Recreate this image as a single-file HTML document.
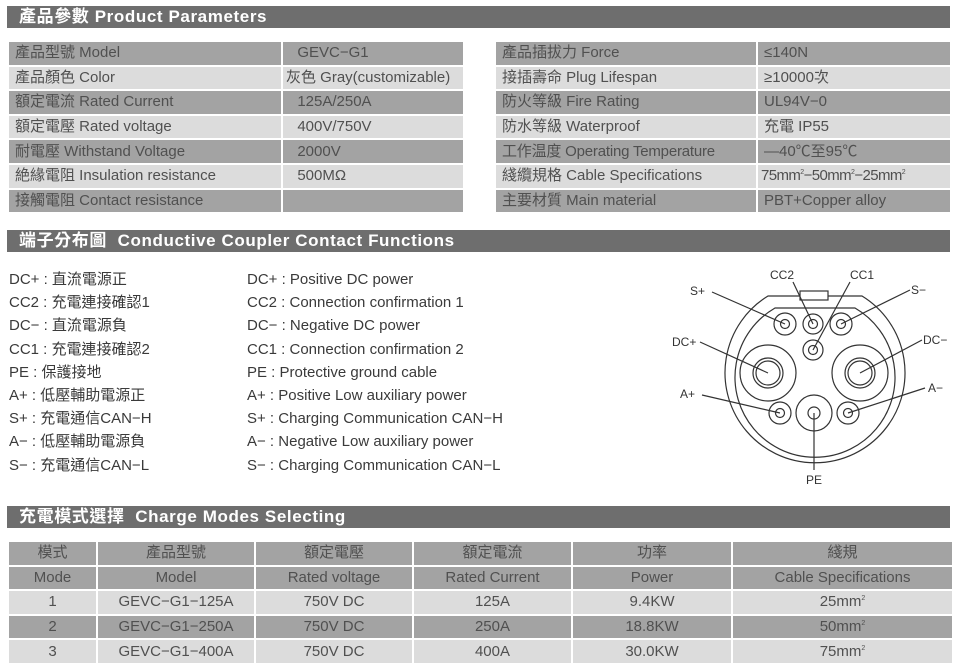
<!DOCTYPE html>
<html><head><meta charset="utf-8">
<style>
body{margin:0;width:960px;height:670px;background:#fff;position:relative;overflow:hidden;font-family:"Liberation Sans","Noto Sans CJK TC",sans-serif;color:#444}
.bar{position:absolute;left:7px;width:943px;height:22px;background:#6e6e6e;color:#fff;font-weight:bold;font-size:17px;line-height:22px;padding-left:12px;box-sizing:border-box;letter-spacing:0.6px}
table{position:absolute;border-collapse:collapse;font-size:15px;color:#505050}
td{padding:0 0 0 6px;border:2px solid #fff;white-space:nowrap;vertical-align:middle;line-height:18px}
sup{line-height:0;font-size:7px}
tr{height:24.6px}
.d td{background:#a3a3a3}.l td{background:#dcdcdc}
.t3 td{text-align:center;padding:0}
.list{position:absolute;font-size:15px;line-height:23.2px;color:#3a3a3a}
</style></head><body>
<div class="bar" style="top:6px">產品參數 Product Parameters</div>
<table class="t1" style="left:7px;top:40px;width:458px">
<tr class="d"><td style="width:266px">產品型號 Model</td><td>&nbsp;&nbsp;GEVC−G1</td></tr>
<tr class="l"><td>產品顏色 Color</td><td style="padding-left:3px">灰色 Gray(customizable)</td></tr>
<tr class="d"><td>額定電流 Rated Current</td><td>&nbsp;&nbsp;125A/250A</td></tr>
<tr class="l"><td>額定電壓 Rated voltage</td><td>&nbsp;&nbsp;400V/750V</td></tr>
<tr class="d"><td>耐電壓 Withstand Voltage</td><td>&nbsp;&nbsp;2000V</td></tr>
<tr class="l"><td>絶緣電阻 Insulation resistance</td><td>&nbsp;&nbsp;500MΩ</td></tr>
<tr class="d"><td>接觸電阻 Contact resistance</td><td></td></tr>
</table>
<table class="t1" style="left:494px;top:40px;width:458px">
<tr class="d"><td style="width:254px">產品插拔力 Force</td><td>≤140N</td></tr>
<tr class="l"><td>接插壽命 Plug Lifespan</td><td>≥10000次</td></tr>
<tr class="d"><td>防火等級 Fire Rating</td><td>UL94V−0</td></tr>
<tr class="l"><td>防水等級 Waterproof</td><td>充電 IP55</td></tr>
<tr class="d"><td style="letter-spacing:-0.2px">工作温度 Operating Temperature</td><td>—40℃至95℃</td></tr>
<tr class="l"><td>綫纜規格 Cable Specifications</td><td style="padding-left:3px;letter-spacing:-0.6px">75mm<sup>2</sup>−50mm<sup>2</sup>−25mm<sup>2</sup></td></tr>
<tr class="d"><td>主要材質 Main material</td><td>PBT+Copper alloy</td></tr>
</table>
<div class="bar" style="top:230px">端子分布圖 &nbsp;Conductive Coupler Contact Functions</div>
<div class="list" style="left:9px;top:268px">DC+ : 直流電源正<br>CC2 : 充電連接確認1<br>DC− : 直流電源負<br>CC1 : 充電連接確認2<br>PE : 保護接地<br>A+ : 低壓輔助電源正<br>S+ : 充電通信CAN−H<br>A− : 低壓輔助電源負<br>S− : 充電通信CAN−L</div>
<div class="list" style="left:247px;top:268px">DC+ : Positive DC power<br>CC2 : Connection confirmation 1<br>DC− : Negative DC power<br>CC1 : Connection confirmation 2<br>PE : Protective ground cable<br>A+ : Positive Low auxiliary power<br>S+ : Charging Communication CAN−H<br>A− : Negative Low auxiliary power<br>S− : Charging Communication CAN−L</div>
<svg style="position:absolute;left:0;top:0" width="960" height="670">
<g fill="none" stroke="#333" stroke-width="1.2">
<path d="M768,296 L862,296 A90,90 0 1 1 768,296 Z"/>
<path d="M775,308 L855,308 A80,80 0 1 1 775,308 Z"/>
<rect x="800" y="291" width="28" height="9" fill="#fff"/>
<circle cx="785" cy="324" r="11"/><circle cx="785" cy="324" r="4.5"/>
<circle cx="813" cy="324" r="10"/><circle cx="813" cy="324" r="4.5"/>
<circle cx="841" cy="324" r="11"/><circle cx="841" cy="324" r="4.5"/>
<circle cx="813" cy="350" r="10"/><circle cx="813" cy="350" r="4.5"/>
<circle cx="768" cy="373" r="28"/><circle cx="768" cy="373" r="15"/><circle cx="768" cy="373" r="12"/>
<circle cx="860" cy="373" r="28"/><circle cx="860" cy="373" r="15"/><circle cx="860" cy="373" r="12"/>
<circle cx="780" cy="413" r="11"/><circle cx="780" cy="413" r="4.5"/>
<circle cx="814" cy="413" r="18"/><circle cx="814" cy="413" r="6"/>
<circle cx="848" cy="413" r="11"/><circle cx="848" cy="413" r="4.5"/>
<path d="M712,292 L785,324 M793,282 L813,324 M850,282 L813,350 M910,290 L841,324 M700,342 L768,373 M922,340 L860,373 M702,395 L780,413 M925,388 L848,413 M814,413 L814,470"/>
</g>
<g font-size="12" fill="#333" font-family="Liberation Sans,sans-serif">
<text x="770" y="279">CC2</text><text x="850" y="279">CC1</text>
<text x="690" y="295">S+</text><text x="911" y="294">S−</text>
<text x="672" y="346">DC+</text><text x="923" y="344">DC−</text>
<text x="680" y="398">A+</text><text x="928" y="392">A−</text>
<text x="806" y="484">PE</text>
</g>
</svg>
<div class="bar" style="top:506px">充電模式選擇 &nbsp;Charge Modes Selecting</div>
<table class="t3" style="left:7px;top:540px;width:947px">
<tr class="d"><td style="width:87px">模式</td><td style="width:156px">產品型號</td><td style="width:156px">額定電壓</td><td style="width:157px">額定電流</td><td style="width:158px">功率</td><td>綫規</td></tr>
<tr class="d"><td>Mode</td><td>Model</td><td>Rated voltage</td><td>Rated Current</td><td>Power</td><td>Cable Specifications</td></tr>
<tr class="l"><td>1</td><td>GEVC−G1−125A</td><td>750V DC</td><td>125A</td><td>9.4KW</td><td>25mm<sup>2</sup></td></tr>
<tr class="d"><td>2</td><td>GEVC−G1−250A</td><td>750V DC</td><td>250A</td><td>18.8KW</td><td>50mm<sup>2</sup></td></tr>
<tr class="l"><td>3</td><td>GEVC−G1−400A</td><td>750V DC</td><td>400A</td><td>30.0KW</td><td>75mm<sup>2</sup></td></tr>
</table>
</body></html>
